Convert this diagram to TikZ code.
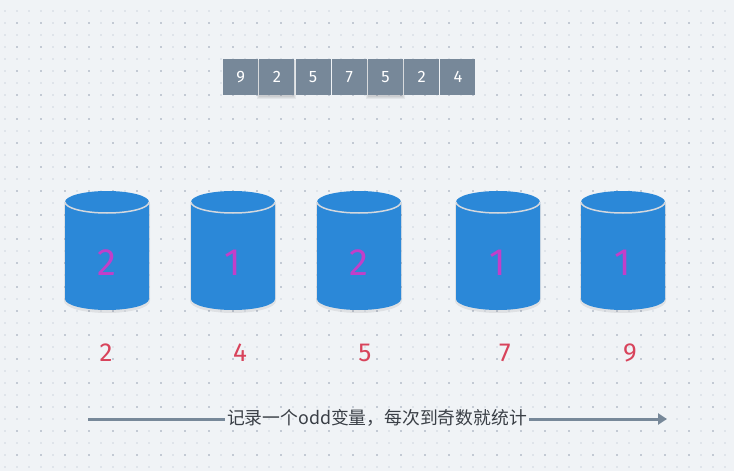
\documentclass[tikz,border=0pt]{standalone}
\usepackage{fontspec}
\setmainfont{Fira Sans}
\newfontfamily\cjk{Noto Sans CJK SC}
\usetikzlibrary{arrows.meta}
\definecolor{bg}{HTML}{F0F3F6}
\definecolor{dotlight}{HTML}{DFE4EA}
\definecolor{dotdark}{HTML}{C3CAD4}
\definecolor{slate}{HTML}{778899}
\definecolor{cylblue}{HTML}{2B88D8}
\definecolor{rim}{HTML}{D4D8DE}
\definecolor{numpurple}{HTML}{C23FC9}
\definecolor{numred}{HTML}{D8435B}
\definecolor{txtgray}{HTML}{3A3F46}
\tikzset{
  cellbox/.style={fill=slate, draw=none, minimum width=35pt, minimum height=36pt, inner sep=0pt, text=white, font=\fontsize{16.5}{16.5}\selectfont, anchor=north west},
  softshade/.style={fill=black, opacity=0.05},
  cylnum/.style={text=numpurple, font=\fontsize{38}{38}\selectfont, inner sep=0pt},
  keynum/.style={text=numred, font=\fontsize{26}{26}\selectfont, inner sep=0pt},
  arrowline/.style={draw=slate, line width=3pt},
  caption/.style={text=txtgray, font=\cjk\fontsize{17.8}{17.8}\selectfont, inner sep=2pt}
}
\begin{document}
\begin{tikzpicture}[x=1pt,y=-1pt]
\fill[bg] (0,0) rectangle (734,471);
\useasboundingbox (0,0) rectangle (734,471);
% dot grid
\foreach \i in {0,...,60}{
  \foreach \j in {0,...,38}{
    \pgfmathsetmacro{\xx}{5+12*\i}
    \pgfmathsetmacro{\yy}{11+12*\j}
    \pgfmathtruncatemacro{\dk}{(mod(\i,2)==1)&&(mod(\j,2)==1)}
    \ifnum\dk=1
      \fill[dotdark] (\xx-1,\yy-1) rectangle (\xx+1,\yy+1);
    \else
      \fill[dotlight] (\xx-1,\yy-1) rectangle (\xx+1,\yy+1);
    \fi
  }
}
% soft shadows of highlighted cells
\foreach \k in {1,4}{
  \pgfmathsetmacro{\lx}{223+36.2*\k}
  \fill[softshade] (\lx-2,60) rectangle (\lx+37,99);
  \fill[softshade] (\lx-1,60) rectangle (\lx+36,98);
  \fill[softshade] (\lx,60) rectangle (\lx+35,97);
}
% top cells
\foreach \v [count=\k from 0] in {9,2,5,7,5,2,4}{
  \pgfmathsetmacro{\lx}{223+36.2*\k}
  \node[cellbox] (c\k) at (\lx,59) {\v};
}
% cylinders
\foreach \cx/\n/\key/\kx [count=\k] in {107/2/2/106, 233/1/4/240, 359/2/5/365, 498/1/7/505, 623/1/9/630}{
  \fill[black, opacity=0.07] (\cx-43,204) -- (\cx-43,301) arc[start angle=180, end angle=0, x radius=43, y radius=12] -- (\cx+43,204) -- cycle;
  \fill[cylblue] (\cx-42,202) -- (\cx-42,299) arc[start angle=180, end angle=0, x radius=42, y radius=11] -- (\cx+42,202) arc[start angle=0, end angle=-180, x radius=42, y radius=11] -- cycle;
  \draw[rim, line width=1.5pt] (\cx-42,202) arc[start angle=180, end angle=0, x radius=42, y radius=11];
  \node[cylnum] (n\k) at (\cx,263) {\n};
  \node[keynum] (k\k) at (\kx,353) {\key};
}
% caption arrow
\node[caption] (cap) at (377,418) {记录一个odd变量，每次到奇数就统计};
\coordinate (astart) at (88,419);
\coordinate (aend) at (667,419);
\draw[arrowline] (astart) -- (astart -| cap.west);
\draw[arrowline,-{Triangle[length=9pt,width=11pt]}] (aend -| cap.east) -- (aend);
\end{tikzpicture}
\end{document}
